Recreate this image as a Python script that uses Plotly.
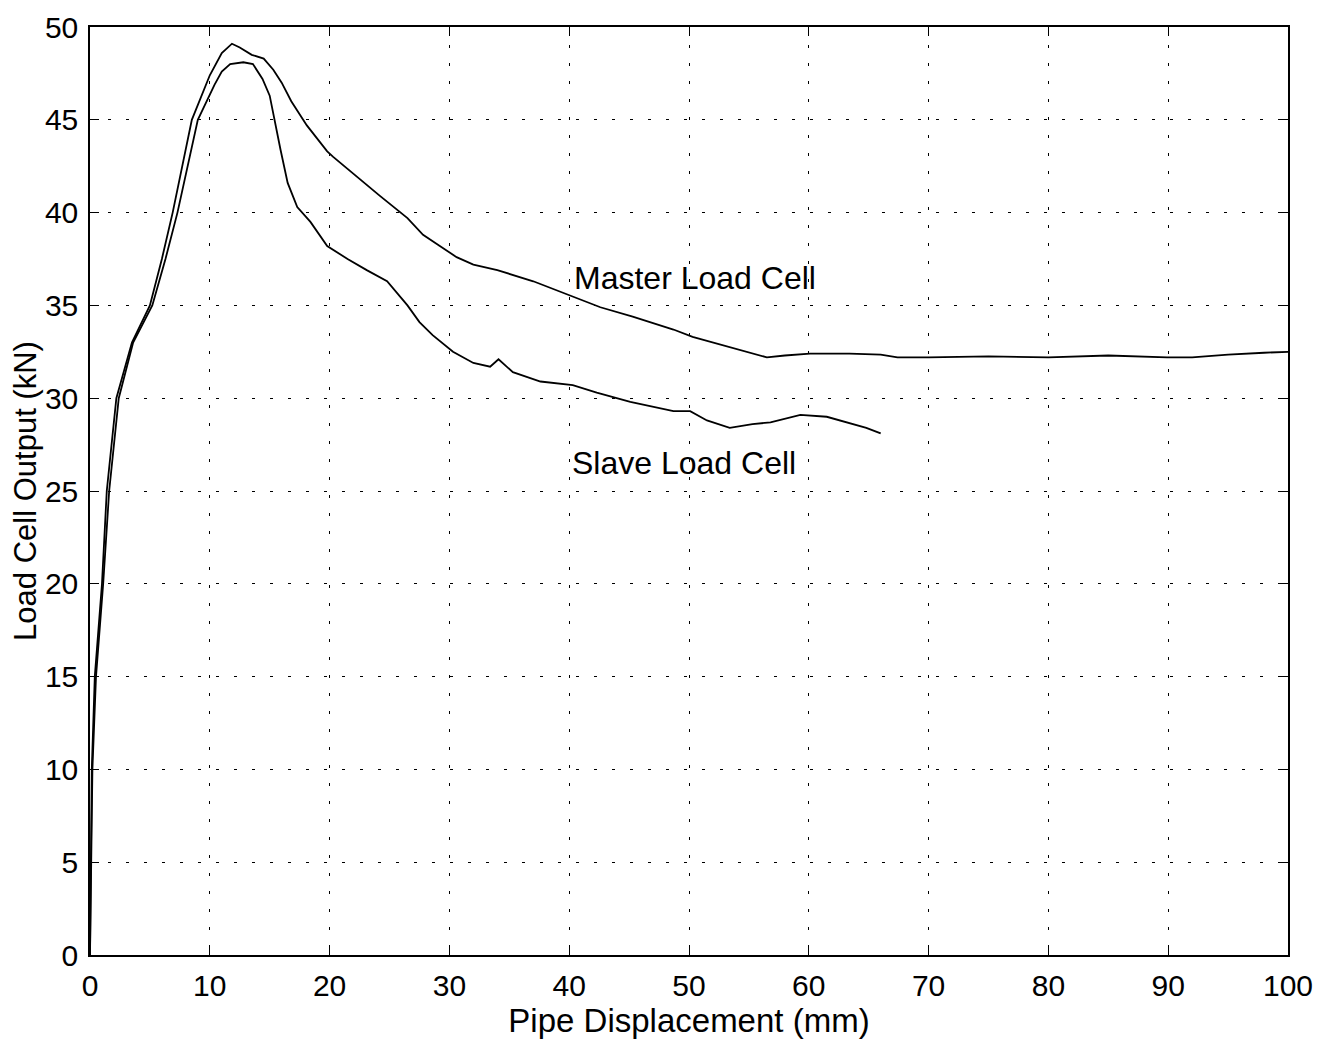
import plotly.graph_objects as go

# Master load cell (pipe displacement mm, load kN)
master_x = [0, 0.05, 0.15, 0.4, 1.0, 1.4, 2.2, 3.5, 5.0, 6.0, 6.9, 8.5, 10.0, 11.0, 11.85,
            12.5, 13.5, 14.5, 15.3, 16.0, 16.8, 18.1, 19.8, 20.3, 22.5, 24.2, 26.5, 27.8, 29.2,
            30.6, 32.0, 34.0, 37.0, 39.8, 40.3, 42.6, 45.3, 48.7, 50.3, 53.7, 56.5, 58.0,
            60.1, 63.4, 66.0, 67.4, 70, 75, 80, 85, 89.9, 92, 95, 98, 100]
master_y = [0, 5, 10, 15, 20, 25, 30, 33, 35, 37.5, 40, 45, 47.4, 48.6, 49.1,
            48.9, 48.5, 48.3, 47.7, 47.0, 46.0, 44.7, 43.3, 43.0, 41.8, 40.9, 39.7, 38.8, 38.2,
            37.6, 37.2, 36.9, 36.3, 35.6, 35.5, 34.9, 34.4, 33.7, 33.3, 32.7, 32.2, 32.3,
            32.4, 32.4, 32.35, 32.2, 32.2, 32.25, 32.2, 32.3, 32.2, 32.2, 32.35, 32.45, 32.5]

# Slave load cell
slave_x = [0, 0.1, 0.2, 0.5, 1.1, 1.6, 2.4, 3.6, 5.2, 6.3, 7.3, 9.0, 10.4, 11.0, 11.7,
           12.8, 13.6, 14.4, 15.0, 15.9, 16.5, 17.3, 18.4, 19.8, 21.5, 23.1, 24.8, 26.5,
           27.5, 28.6, 30.3, 32.0, 33.4, 34.1, 35.3, 37.6, 40.3, 42.3, 45.1, 48.7, 50.1,
           51.5, 53.4, 55.3, 56.8, 59.3, 61.5, 64.8, 65.5, 66.0]
slave_y = [0, 5, 10, 15, 20, 25, 30, 33, 35, 37.5, 40, 45, 46.9, 47.6, 48.0,
           48.1, 48.0, 47.2, 46.3, 43.4, 41.6, 40.3, 39.5, 38.2, 37.5, 36.9, 36.3, 35.0,
           34.1, 33.4, 32.5, 31.9, 31.7, 32.1, 31.4, 30.9, 30.7, 30.3, 29.8, 29.3, 29.3,
           28.8, 28.4, 28.6, 28.7, 29.1, 29.0, 28.4, 28.2, 28.1]

x_ticks = list(range(0, 101, 10))
y_ticks = list(range(0, 51, 5))

labels = ["Master Load Cell", "Slave Load Cell"]
label_x = [40.2, 40.1]
label_y = [36.5, 26.5]

FONT = "Liberation Sans, Arial, Helvetica"

fig = go.Figure()
fig.add_trace(go.Scatter(x=master_x, y=master_y, mode="lines",
                         line=dict(color="black", width=1.8), showlegend=False))
fig.add_trace(go.Scatter(x=slave_x, y=slave_y, mode="lines",
                         line=dict(color="black", width=1.8), showlegend=False))

for t, lx, ly in zip(labels, label_x, label_y):
    fig.add_annotation(x=lx, y=ly, text=t, showarrow=False, xanchor="left",
                       yanchor="middle", font=dict(size=32, color="black", family=FONT))

axis_common = dict(showline=True, linecolor="black", linewidth=1.5, mirror="ticks",
                   ticks="inside", ticklen=9, tickcolor="black", automargin=False,
                   ticklabeloverflow="allow",
                   showgrid=True, gridcolor="black", gridwidth=1, griddash="3px,15px",
                   zeroline=False,
                   tickfont=dict(size=30, color="black", family=FONT))

fig.update_xaxes(range=[0, 100], tickvals=x_ticks, ticklabelstandoff=3,
                 title=dict(text="Pipe Displacement (mm)", standoff=5,
                            font=dict(size=33, color="black", family=FONT)),
                 **axis_common)
fig.update_yaxes(range=[0, 50], tickvals=y_ticks, ticklabelstandoff=4,
                 title=dict(text="Load Cell Output (kN)", standoff=6,
                            font=dict(size=31, color="black", family=FONT)),
                 **axis_common)

fig.update_layout(width=1316, height=1039,
                  margin=dict(l=82, r=36, t=19, b=92),
                  plot_bgcolor="white", paper_bgcolor="white")

fig.write_html("out.html")
